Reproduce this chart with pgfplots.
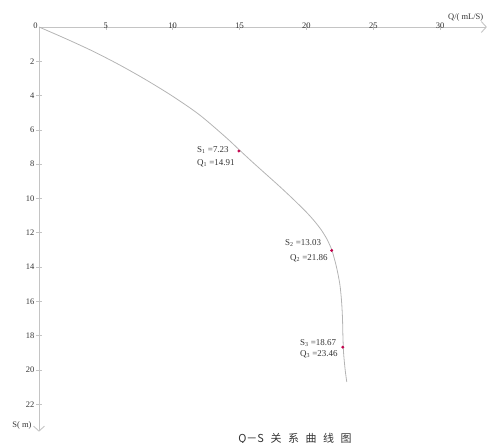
\documentclass[border=0pt]{standalone}
\usepackage{fontspec}
\setmainfont{Liberation Serif}
\newfontfamily\cjk{Noto Sans CJK SC}
\usepackage{pgfplots}
\pgfplotsset{compat=1.18}
\usetikzlibrary{arrows.meta}
\definecolor{axgray}{HTML}{C4C4C4}
\definecolor{curvegray}{HTML}{B4B4B4}
\definecolor{txt}{HTML}{333333}
\definecolor{pt}{HTML}{C2004A}
\begin{document}
\begin{tikzpicture}
\useasboundingbox (0,0) rectangle (495bp,443bp);
\begin{axis}[
  at={(39bp,416bp)}, anchor=north west,
  scale only axis, width=447.9bp, height=404.7bp,
  xmin=0, xmax=33.5, ymin=0, ymax=23.6,
  y dir=reverse,
  axis lines=middle,
  axis line style={axgray, line width=0.9bp, -{Straight Barb[length=5bp,width=11bp]}},
  xtick={5,10,...,30}, ytick={2,4,...,22},
  tick style={axgray, line width=0.7bp},
  tick align=center, major tick length=5bp,
  /pgf/number format/assume math mode=true,
  ticklabel style={font=\fontsize{8.5}{9}\selectfont, text=txt, inner sep=1bp},
  xticklabel style={anchor=south, yshift=0bp},
  yticklabel style={anchor=east, xshift=-1bp},
  clip=false,
]
\addplot[curvegray, line width=0.8bp, smooth, tension=0.5] coordinates {
(0,0) (2,0.68) (4,1.4) (6,2.2) (8,3.08) (10,4.04) (12,5.12) (14,6.45)
(15,7.18) (16,7.9) (17,8.6) (18,9.3) (19,10.03) (20,10.8) (20.6,11.32)
(21.1,11.82) (21.5,12.32) (21.75,12.72) (21.95,13.12) (22.25,14.0)
(22.5,15.0) (22.63,16.0) (22.7,17.0) (22.73,18.0) (22.78,19.0)
(22.9,20.0) (23.02,20.7)
};
\addplot[only marks, mark=*, mark size=1.3bp, pt] coordinates {
(14.95,7.23) (21.89,13.03) (22.72,18.67)
};
\node[anchor=west, inner sep=0, text=txt, font=\fontsize{9}{9}\selectfont] at (axis cs:11.82,7.20) {S\textsubscript{1} =7.23};
\node[anchor=west, inner sep=0, text=txt, font=\fontsize{9}{9}\selectfont] at (axis cs:11.82,7.93) {Q\textsubscript{1} =14.91};
\node[anchor=west, inner sep=0, text=txt, font=\fontsize{9}{9}\selectfont] at (axis cs:18.40,12.62) {S\textsubscript{2} =13.03};
\node[anchor=west, inner sep=0, text=txt, font=\fontsize{9}{9}\selectfont] at (axis cs:18.77,13.50) {Q\textsubscript{2} =21.86};
\node[anchor=west, inner sep=0, text=txt, font=\fontsize{9}{9}\selectfont] at (axis cs:19.52,18.45) {S\textsubscript{3} =18.67};
\node[anchor=west, inner sep=0, text=txt, font=\fontsize{9}{9}\selectfont] at (axis cs:19.52,19.10) {Q\textsubscript{3} =23.46};
\end{axis}
\node[text=txt, font=\fontsize{8.5}{9}\selectfont, inner sep=0] at (35.5bp,417bp) {0};
\node[anchor=west, text=txt, font=\fontsize{8.5}{9}\selectfont, inner sep=0] at (448bp,426bp) {Q/( mL/S)};
\node[anchor=center, text=txt, font=\fontsize{8.5}{9}\selectfont, inner sep=0] at (22bp,18bp) {S( m)};
\node[anchor=center, text=txt, font=\cjk\fontsize{11}{12}\selectfont, inner sep=0] at (295bp,4bp) {Q－S\hspace{0.6em}关\hspace{0.6em}系\hspace{0.6em}曲\hspace{0.6em}线\hspace{0.6em}图};
\end{tikzpicture}
\end{document}
